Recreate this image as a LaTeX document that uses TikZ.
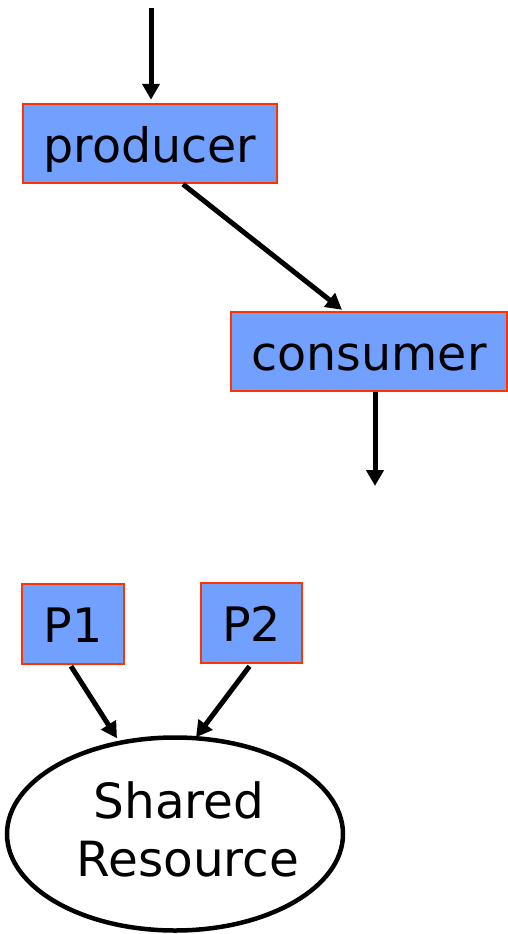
\documentclass[tikz,border=0pt]{standalone}
\usepackage{fontspec}
\setmainfont{DejaVu Sans}
\usetikzlibrary{arrows.meta,shapes.geometric,calc}
\definecolor{boxfill}{RGB}{114,160,255}
\definecolor{boxline}{RGB}{255,51,0}
\tikzset{
  procbox/.style={draw=boxline, fill=boxfill, line width=2.5pt, inner sep=0pt, text height=37pt, text depth=0pt, font=\fontsize{47.5}{56}\selectfont},
  flow/.style={line width=5pt, -{Triangle[length=16pt,width=17pt]}},
  srfont/.style={font=\fontsize{48.5}{58}\selectfont, inner sep=0pt, anchor=base},
}
\begin{document}
\begin{tikzpicture}[x=1pt,y=-1pt]
\useasboundingbox (0,0) rectangle (508,934);
\node[procbox, minimum width=254pt, minimum height=79pt] (prod) at (150,143.5) {producer};
\node[procbox, minimum width=276pt, minimum height=79pt] (cons) at (369,351.5) {consumer};
\node[procbox, minimum width=102pt, minimum height=80pt] (p1) at (73,624) {P1};
\node[procbox, minimum width=101pt, minimum height=80pt] (p2) at (251.5,623) {P2};
\node[draw, ellipse, line width=4.5pt, minimum width=336pt, minimum height=193pt, inner sep=0pt] (sr) at (175,834) {};
\node[srfont] (srtext1) at (179,818) {Shared};
\node[srfont] (srtext2) at (188,876) {Resource};
\coordinate (in) at (151,8);
\coordinate (out) at (375,486);
\draw[flow] (in) -- ($(prod.north)+(1,-3)$);
\draw[flow] ($(prod.south)+(33,0)$) -- ($(cons.north)+(-27,-1)$);
\draw[flow] ($(cons.south)+(6,0)$) -- (out);
\draw[flow] ($(p1.south)+(-2,1)$) -- ($(sr.north)+(-58,3)$);
\draw[flow] ($(p2.south)+(-2,2)$) -- ($(sr.north)+(21,2)$);
\end{tikzpicture}
\end{document}
